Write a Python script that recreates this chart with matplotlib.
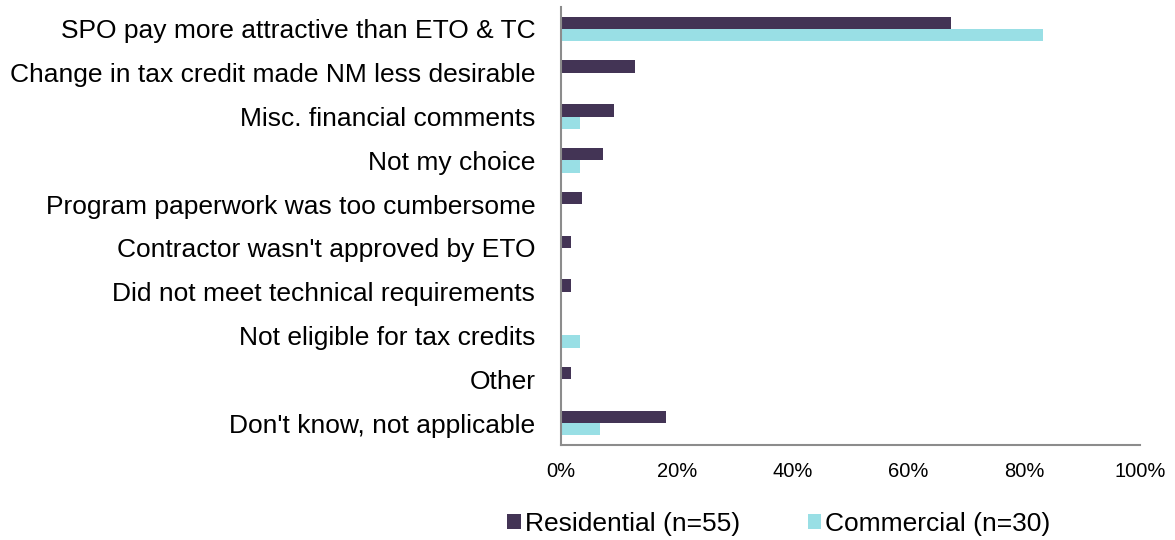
import matplotlib.pyplot as plt
import numpy as np
from matplotlib.ticker import PercentFormatter

plt.rcParams['font.family'] = ['Liberation Sans', 'DejaVu Sans']

categories = [
    'SPO pay more attractive than ETO & TC',
    'Change in tax credit made NM less desirable',
    'Misc. financial comments',
    'Not my choice',
    'Program paperwork was too cumbersome',
    "Contractor wasn't approved by ETO",
    'Did not meet technical requirements',
    'Not eligible for tax credits',
    'Other',
    "Don't know, not applicable",
]
residential = [67.3, 12.7, 9.1, 7.3, 3.6, 1.8, 1.8, 0.0, 1.8, 18.2]
commercial = [83.3, 0.0, 3.3, 3.3, 0.0, 0.0, 0.0, 3.3, 0.0, 6.7]
series_labels = ['Residential (n=55)', 'Commercial (n=30)']
colors = ['#433455', '#99dfe5']

fig = plt.figure(figsize=(11.75, 5.4), dpi=100)
ax = fig.add_axes([0.4775, 0.176, 0.4925, 0.811])

y = np.arange(len(categories))
h = 0.28
ax.barh(y - h / 2, residential, height=h, color=colors[0], label=series_labels[0])
ax.barh(y + h / 2, commercial, height=h, color=colors[1], label=series_labels[1])

ax.set_ylim(len(categories) - 0.5, -0.5)
ax.set_xlim(0, 100)
ax.set_yticks(y)
ax.set_yticklabels(categories, fontsize=19)
ax.set_xticks(np.arange(0, 101, 20))
ax.xaxis.set_major_formatter(PercentFormatter(decimals=0))
ax.tick_params(axis='x', labelsize=14.5, length=0, pad=12)
ax.tick_params(axis='y', length=0, pad=18.5)

for s in ['top', 'right']:
    ax.spines[s].set_visible(False)
for s in ['left', 'bottom']:
    ax.spines[s].set_color('#8c8c8c')
    ax.spines[s].set_linewidth(1.5)

fig.legend(loc='lower center', bbox_to_anchor=(0.663, -0.037), ncol=2, frameon=False,
           fontsize=19, handlelength=0.5, handleheight=0.5, handletextpad=0.15,
           columnspacing=2.6)

fig.savefig('out.png', dpi=100)
